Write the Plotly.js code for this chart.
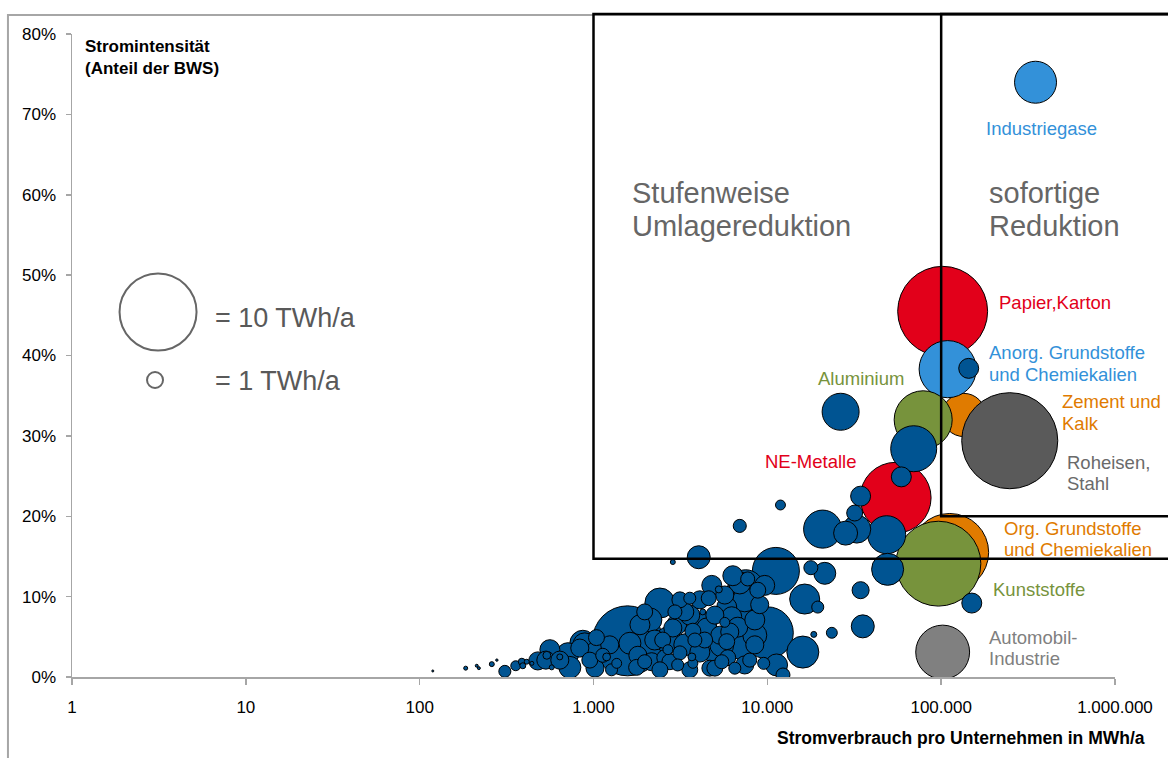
<!DOCTYPE html>
<html><head><meta charset="utf-8">
<script src="https://cdn.plot.ly/plotly-3.0.1.min.js"></script>
<style>html,body{margin:0;padding:0;background:#fff;} #chart{width:1168px;height:758px;}</style>
</head><body><div id="chart"></div>
<script>
// ---- data: Stromverbrauch pro Unternehmen (MWh/a), Stromintensität (%), Verbrauch der Branche (TWh/a)
const blueX = [119,184,213,219,260,278,309,357,387,392,413,442,478,532,539,575,640,712,731,834,891,868,1130,1190,1360,1620,1800,1770,1570,2410,2500,2570,2680,3010,3730,4480,4850,5840,6240,6940,7710,4600,5260,4250,5690,7510,6760,6940,5840,5920,5470,4090,3680,3140,2750,3050,3730,2680,2860,3830,4030,2860,11200,17800,21400,34400,35400,23500,18500,16400,19500,16000,11300,9530,12300,10000,49200,150000,26400,34400,11900,6940,20800,32700,28200,48600,31800,69500,59000,144000,7410,8470,4990,3350,2110,2160,1270,1020,952,1040,1970,4670,6500,7920,4360,5330,8470,3580,6330,8810,
  4790,3580,4360,5470,7410,8470,4990,7410,3350,2250,1970,3140,4090,5690,9040,561,640,1020,1240,2410,3580,6080,9660,1850,2940];
const blueY = [0.75,1.1,1.4,1.1,1.6,2.1,0.7,1.4,1.9,1.4,1.9,1.7,2.0,2.1,2.7,1.2,2.5,2.9,1.2,3.6,4.0,4.2,2.7,2.5,1.7,4.2,2.7,1.2,4.5,9.2,4.6,2.4,3.4,6.5,5.7,6.1,3.4,8.7,7.5,11.7,12.2,9.8,10.9,8.1,6.8,11.1,6.2,3.7,4.4,2.4,1.9,3.1,2.5,3.0,1.9,1.5,1.7,4.6,6.1,4.6,14.9,14.3,13.2,13.6,12.9,10.8,6.3,5.5,5.3,9.7,8.7,3.1,1.5,1.7,0.25,5.5,13.4,9.2,33.0,22.5,21.4,18.8,18.4,18.4,17.9,17.7,20.4,28.4,24.9,38.4,8.3,7.1,7.7,8.1,7.1,1.9,0.9,1.1,2.1,4.9,1.9,1.1,1.1,2.1,4.6,5.2,4.0,9.8,12.6,10.8,
  11.4,7.7,6.5,4.0,9.6,5.2,1.1,1.5,4.0,4.6,8.1,9.6,9.6,10.2,9.0,3.4,2.1,3.1,4.0,0.9,0.9,5.6,11.4,6.5,8.1];
const blueTWh = [0.008,0.031,0.017,0.017,0.048,0.011,0.28,0.19,0.095,0.069,0.048,0.031,0.63,0.63,0.12,0.048,0.069,0.93,0.93,0.63,1.11,1.30,0.38,0.12,0.19,0.93,0.63,0.49,9.45,1.74,0.49,0.49,0.19,0.77,0.49,0.77,1.11,0.77,0.77,0.93,0.38,0.43,0.095,0.069,0.19,2.5,0.77,1.11,0.49,0.49,0.38,0.77,0.12,0.38,0.49,0.28,0.19,1.30,0.63,0.38,1.02,0.048,4.26,0.38,0.93,0.56,1.02,0.23,0.069,1.74,0.28,1.98,0.93,0.28,0.38,5.2,1.98,0.77,2.64,0.77,0.19,0.33,2.79,1.51,1.11,2.79,0.49,4.08,0.77,0.77,1.11,0.77,0.63,0.63,1.11,0.63,0.28,0.63,0.49,0.49,0.38,0.49,0.28,0.38,0.49,0.63,0.63,0.28,0.77,0.49,
  0.77,0.77,1.11,1.11,1.11,1.11,0.49,0.63,0.93,0.77,0.49,0.49,0.63,0.63,0.63,0.77,0.63,0.77,0.63,0.49,0.49,0.63,0.77,0.77,0.38];

const sectorNames = ['Org. Grundstoffe<br>und Chemiekalien','Kunststoffe','Zement und<br>Kalk','Roheisen,<br>Stahl','Papier,Karton','Anorg. Grundstoffe<br>und Chemiekalien','Aluminium','NE-Metalle','Automobil-<br>Industrie','Industriegase'];
const sectorX = [112000,96400,135000,248000,102000,109000,78800,54700,102000,349000];
const sectorY = [15.5,14.1,32.6,29.4,45.5,38.3,32.0,22.3,3.1,74.0];
const sectorTWh = [11.7,13.9,3.6,17.8,15.6,6.3,6.5,9.7,5.6,3.4];

const xTickVals = [1,10,100,1000,10000,100000,1000000];
const xTickText = ['1','10','100','1.000','10.000','100.000','1.000.000'];
const yTickVals = [0,10,20,30,40,50,60,70,80];
const yTickText = ['0%','10%','20%','30%','40%','50%','60%','70%','80%'];

// thresholds of the two regions (MWh/a, %)
const regionStufenweise = {x: 1000, y: 14.7};
const regionSofort = {x: 100000, y: 20};

// ---- styles
const FONT = 'Liberation Sans, Arial, sans-serif';
const DARKBLUE = '#005492';
const sectorFill = ['#E07B00','#77933C','#E07B00','#5A5A5A','#E2001A','#3391D9','#77933C','#E2001A','#808080','#3391D9'];
const sectorText = ['#E07B00','#77933C','#E07B00','#6A6A6A','#E2001A','#3391D9','#77933C','#E2001A','#808080','#3391D9'];
// label positions [log10 x, y %]
const labelPos = [[5.350,17.2],[5.289,10.9],[5.681,32.9],[5.714,25.4],[5.322,46.6],[5.264,39.0],[4.280,37.1],[3.975,26.8],[5.264,3.6],[5.245,68.3]];

const SIZEREF = 10/(2*36*36); // 10 TWh/a -> radius 36 px

function bubbles(x, y, s, color) {
  return {type:'scatter', mode:'markers', x:x, y:y, cliponaxis:true,
    marker:{size:s, sizemode:'area', sizeref:SIZEREF, color:color, opacity:1, line:{color:'#000', width:1}},
    hoverinfo:'skip', showlegend:false};
}

const traces = [];
for (let i = 0; i < sectorNames.length; i++) {
  traces.push(bubbles([sectorX[i]], [sectorY[i]], [sectorTWh[i]], sectorFill[i]));
}
const order = blueTWh.map((_, i) => i).sort((a, b) => blueTWh[b] - blueTWh[a]);
traces.push(bubbles(order.map(i => blueX[i]), order.map(i => blueY[i]), order.map(i => blueTWh[i]), DARKBLUE));

const annotations = [];
function addText(text, xref, yref, x, y, size, color, gap, xanchor, bold) {
  const lines = text.split('<br>');
  const n = lines.length;
  lines.forEach((ln, i) => {
    annotations.push({xref:xref, yref:yref, x:x, y:y, text: bold ? '<b>' + ln + '</b>' : ln,
      yshift: ((n - 1) / 2 - i) * gap, showarrow:false, xanchor:xanchor || 'left', yanchor:'middle',
      align:'left', font:{family:FONT, size:size, color:color}});
  });
}
for (let i = 0; i < sectorNames.length; i++) {
  addText(sectorNames[i], 'x', 'y', labelPos[i][0], labelPos[i][1], 18.5, sectorText[i], 21.5);
}
addText('Stufenweise<br>Umlagereduktion', 'x', 'y', 3.212, 58.2, 29, '#666666', 33);
addText('sofortige<br>Reduktion', 'x', 'y', 5.265, 58.2, 29, '#666666', 33);
addText('Stromintensität<br>(Anteil der BWS)', 'paper', 'paper', 0.0105, 0.963, 17, '#000', 22, 'left', true);
addText('Stromverbrauch pro Unternehmen in MWh/a', 'paper', 'paper', 1.031, -0.095, 17.5, '#000', 0, 'right', true);
addText('= 10 TWh/a', 'paper', 'paper', 0.135, 0.558, 27, '#595959', 0);
addText('= 1 TWh/a', 'paper', 'paper', 0.135, 0.460, 27, '#595959', 0);

const XMAX_LOG = 6, YMAX = 80;
const px = v => Math.log10(v) / XMAX_LOG;
const py = v => v / YMAX;
const TOP = 82.5 / YMAX;

const shapes = [
  // outer grey frame
  {type:'rect', xref:'paper', yref:'paper', x0:-0.0614, x1:1.3, y0:-0.3, y1:1.0295, line:{color:'#A6A6A6', width:2}, layer:'below'},
  // regions
  {type:'rect', xref:'paper', yref:'paper', x0:px(regionStufenweise.x), x1:1.3, y0:py(regionStufenweise.y), y1:TOP, line:{color:'#000', width:2.5}},
  {type:'rect', xref:'paper', yref:'paper', x0:px(regionSofort.x), x1:1.3, y0:py(regionSofort.y), y1:TOP, line:{color:'#000', width:2.5}},
  // size key
  {type:'circle', xref:'paper', yref:'paper', xsizemode:'pixel', ysizemode:'pixel', xanchor:0.0825, yanchor:0.5677,
    x0:-38.5, x1:38.5, y0:-38.5, y1:38.5, line:{color:'#666666', width:2}},
  {type:'circle', xref:'paper', yref:'paper', xsizemode:'pixel', ysizemode:'pixel', xanchor:0.0796, yanchor:0.4619,
    x0:-8, x1:8, y0:-8, y1:8, line:{color:'#666666', width:2}}
];

const layout = {
  width:1168, height:758, autosize:false,
  margin:{l:72, r:53, t:34, b:81, pad:0},
  paper_bgcolor:'#fff', plot_bgcolor:'#fff',
  font:{family:FONT, size:17, color:'#000'},
  showlegend:false,
  xaxis:{type:'log', range:[0, XMAX_LOG], tickvals:xTickVals, ticktext:xTickText,
    showgrid:false, zeroline:false, showline:true, linecolor:'#A6A6A6', linewidth:1.5,
    ticks:'outside', ticklen:6, tickcolor:'#A6A6A6', tickwidth:1.5, ticklabelstandoff:8,
    tickfont:{family:FONT, size:17, color:'#000'}, fixedrange:true},
  yaxis:{range:[0, YMAX], tickvals:yTickVals, ticktext:yTickText,
    showgrid:false, zeroline:false, showline:true, linecolor:'#A6A6A6', linewidth:1.5,
    ticks:'outside', ticklen:5, tickcolor:'#A6A6A6', tickwidth:1.5, ticklabelstandoff:6,
    tickfont:{family:FONT, size:17, color:'#000'}, fixedrange:true},
  annotations:annotations,
  shapes:shapes
};

Plotly.newPlot('chart', traces, layout, {displayModeBar:false, staticPlot:true});
</script></body></html>
